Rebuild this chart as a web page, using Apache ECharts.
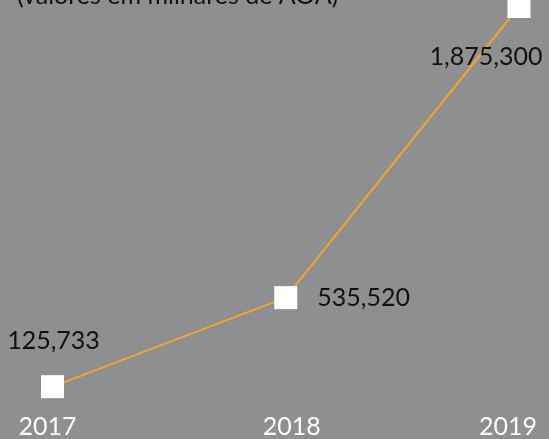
<!DOCTYPE html>
<html><head><meta charset="utf-8">
<script src="https://cdn.jsdelivr.net/npm/echarts@6/dist/echarts.min.js"></script>
<style>html,body{margin:0;padding:0;background:#8e8f91;}#c{width:549px;height:439px;}</style>
</head><body><div id="c"></div>
<script>
const years = ['2017', '2018', '2019'];
const values = [125733, 535520, 1875300];
const titleText = '(valores em milhares de AOA)';

const FONT = 'Lato';
const WEIGHT = 'normal';
const chart = echarts.init(document.getElementById('c'));
const labelCfg = [
  {position: 'top', distance: 22, offset: [1, 0]},
  {position: 'right', distance: 20, offset: [0, 0]},
  {position: 'bottom', distance: 26, offset: [-33, 0]}
];
const xShift = [{padding: [0, 10, 0, 0]}, {padding: [0, 0, 0, 12]}, {padding: [0, 22, 0, 0]}];
chart.setOption({
  backgroundColor: '#8e8f91',
  animation: false,
  title: {
    text: titleText, left: 12, top: -22,
    textStyle: {fontFamily: FONT, fontWeight: WEIGHT, fontSize: 25, color: '#111'}
  },
  grid: {left: 52.5, right: 30, top: 6.5, bottom: 23.6, containLabel: false},
  xAxis: {
    type: 'category', boundaryGap: false,
    data: years.map((y, i) => ({value: y, textStyle: xShift[i]})),
    axisLine: {show: false}, axisTick: {show: false}, splitLine: {show: false},
    axisLabel: {color: '#fff', fontFamily: FONT, fontWeight: WEIGHT, fontSize: 25, margin: 0, interval: 0}
  },
  yAxis: {type: 'value', min: 0, max: 1875300, show: false, splitLine: {show: false}},
  series: [{
    type: 'line',
    data: values.map((v, i) => ({value: v, label: labelCfg[i]})),
    symbol: 'rect', symbolSize: 23,
    itemStyle: {color: '#ffffff'},
    lineStyle: {color: '#f5a623', width: 2},
    clip: false,
    label: {
      show: true, color: '#111', fontFamily: FONT, fontWeight: WEIGHT, fontSize: 25,
      formatter: p => p.value.toLocaleString('en-US')
    }
  }]
});
</script></body></html>
